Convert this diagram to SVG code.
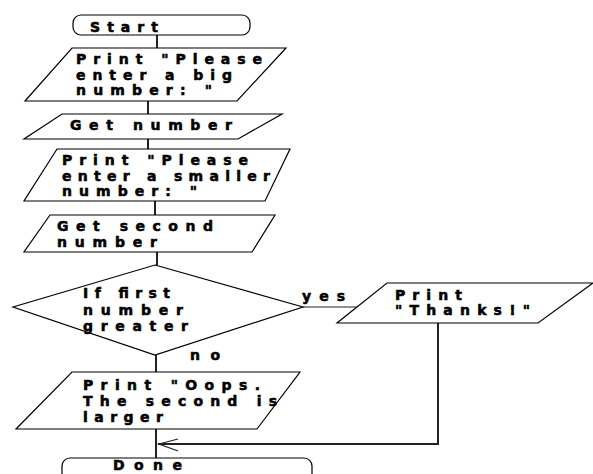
<svg xmlns="http://www.w3.org/2000/svg" width="593" height="474" viewBox="0 0 593 474">
  <style>
    .shape { fill: #fff; stroke: #000; stroke-width: 1.2; }
    .conn { fill: none; stroke: #222; stroke-width: 2; }
    .arrow { fill: none; stroke: #222; stroke-width: 1.2; }
    text { font-family: "DejaVu Sans", "Liberation Sans", sans-serif; font-weight: bold; font-size: 14px; fill: #000; stroke: #000; stroke-width: 0.55; }
  </style>
  <rect x="0" y="0" width="593" height="474" fill="#fff"/>

  <!-- connectors -->
  <g id="connectors">
    <line class="conn" x1="157" y1="35" x2="157" y2="48"/>
    <line class="conn" x1="148" y1="101" x2="148" y2="114"/>
    <line class="conn" x1="148" y1="139" x2="148" y2="149"/>
    <line class="conn" x1="155" y1="201" x2="155" y2="215"/>
    <line class="conn" x1="157" y1="252" x2="157" y2="265"/>
    <line class="conn" x1="156" y1="355" x2="156" y2="372"/>
    <line class="conn" x1="156" y1="429" x2="156" y2="458"/>
    <!-- yes branch -->
    <line class="arrow" x1="303" y1="307" x2="358" y2="307"/>
    <polyline class="conn" points="438,323 438,444 158,444"/>
    <polyline class="arrow" points="178,439 159,444 178,451"/>
    <text x="302" y="301" textLength="43" lengthAdjust="spacing">yes</text>
    <text x="190" y="360" textLength="30" lengthAdjust="spacing">no</text>
  </g>

  <g id="start">
    <rect class="shape" x="73" y="15" width="177" height="20" rx="8" ry="8"/>
    <text x="90" y="32" textLength="68" lengthAdjust="spacing">Start</text>
  </g>

  <g id="print-big">
    <polygon class="shape" points="72,48 286,48 237,101 25,101"/>
    <text x="76" y="64" textLength="186" lengthAdjust="spacing">Print "Please</text>
    <text x="76" y="80" textLength="156" lengthAdjust="spacing">enter a big</text>
    <text x="76" y="95" textLength="136" lengthAdjust="spacing">number: "</text>
  </g>

  <g id="get-number">
    <polygon class="shape" points="62,114 282,114 238,139 24,139"/>
    <text x="70" y="130" textLength="162" lengthAdjust="spacing">Get number</text>
  </g>

  <g id="print-smaller">
    <polygon class="shape" points="57,149 290,149 265,201 24,201"/>
    <text x="62" y="165" textLength="186" lengthAdjust="spacing">Print "Please</text>
    <text x="62" y="181" textLength="208" lengthAdjust="spacing">enter a smaller</text>
    <text x="62" y="196" textLength="135" lengthAdjust="spacing">number: "</text>
  </g>

  <g id="get-second">
    <polygon class="shape" points="50,215 275,215 252,252 24,252"/>
    <text x="57" y="231" textLength="156" lengthAdjust="spacing">Get second</text>
    <text x="57" y="247" textLength="100" lengthAdjust="spacing">number</text>
  </g>

  <g id="decision">
    <polygon class="shape" points="155,265 303,307 155,355 13,307"/>
    <text x="83" y="298" textLength="87" lengthAdjust="spacing">If first</text>
    <text x="83" y="315" textLength="100" lengthAdjust="spacing">number</text>
    <text x="83" y="331" textLength="105" lengthAdjust="spacing">greater</text>
  </g>

  <g id="print-thanks">
    <polygon class="shape" points="387,283 593,283 538,323 337,323"/>
    <text x="395" y="300" textLength="67" lengthAdjust="spacing">Print</text>
    <text x="395" y="315" textLength="135" lengthAdjust="spacing">"Thanks!"</text>
  </g>

  <g id="print-oops">
    <polygon class="shape" points="72,372 300,372 257,429 16,429"/>
    <text x="83" y="390" textLength="177" lengthAdjust="spacing">Print "Oops.</text>
    <text x="83" y="406" textLength="194" lengthAdjust="spacing">The second is</text>
    <text x="83" y="422" textLength="80" lengthAdjust="spacing">larger</text>
  </g>

  <g id="done">
    <rect class="shape" x="62" y="458" width="250" height="24" rx="8" ry="8"/>
    <text x="113" y="470" textLength="69" lengthAdjust="spacing">Done</text>
  </g>
</svg>
